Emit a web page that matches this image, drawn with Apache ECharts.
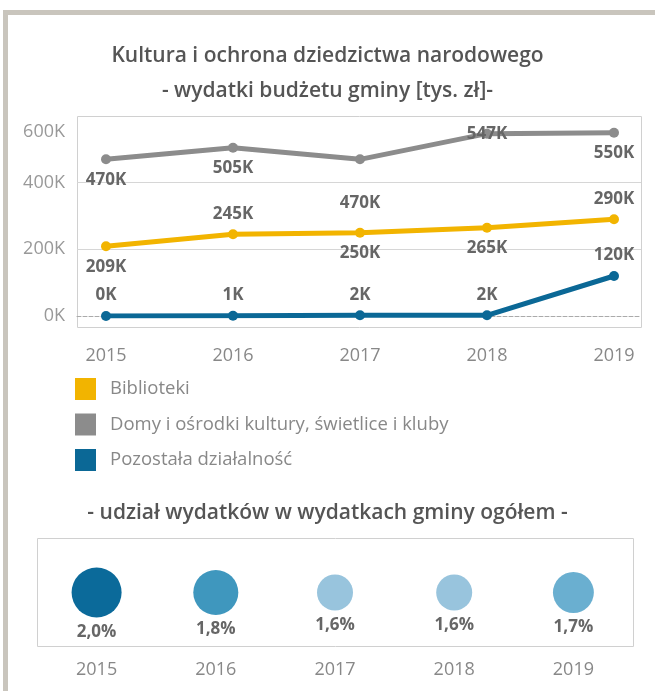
<!DOCTYPE html>
<html>
<head>
<meta charset="utf-8">
<script src="https://cdn.jsdelivr.net/npm/echarts@6/dist/echarts.min.js"></script>
<style>
  html, body { margin: 0; padding: 0; background: #fff; }
  #chart { width: 655px; height: 691px; }
</style>
</head>
<body>
<div id="chart"></div>
<script>
// dane (tys. zł)
var years = ['2015', '2016', '2017', '2018', '2019'];
var biblioteki = [209, 245, 250, 265, 290];
var domyKultury = [470, 505, 470, 547, 550];
var pozostala = [0, 1, 2, 2, 120];
var yTicks = [0, 200, 400, 600];
// udzial w wydatkach gminy ogolem [%]
var udzial = [2.0, 1.8, 1.6, 1.6, 1.7];

var names = ['Biblioteki', 'Domy i ośrodki kultury, świetlice i kluby', 'Pozostała działalność'];
var colors = ['#F2B400', '#8C8C8C', '#0B6896'];

// where each value label sits: 'top' | 'bottom' | 'far' | 'on'
var labelPlace = [
  ['bottom', 'top', 'bottom', 'bottom', 'top'],
  ['bottom', 'bottom', 'far', 'on', 'bottom'],
  ['top', 'top', 'top', 'top', 'top']
];

function labelFor(place) {
  if (place === 'on') return { position: 'inside' };
  if (place === 'far') return { position: 'bottom', distance: 30 };
  return { position: place, distance: 7 };
}

function lineSeries(idx, values) {
  return {
    name: names[idx],
    type: 'line',
    xAxisIndex: 0,
    yAxisIndex: 0,
    symbol: 'circle',
    symbolSize: 10,
    z: 3 + idx,
    lineStyle: { width: 5, color: colors[idx] },
    itemStyle: { color: colors[idx] },
    label: {
      show: true,
      fontSize: 17,
      fontWeight: 'bold',
      color: '#666',
      formatter: function (p) { return Math.round(p.value) + 'K'; }
    },
    data: values.map(function (v, i) {
      return { value: v, label: labelFor(labelPlace[idx][i]) };
    })
  };
}

// bubble diameter from share (min 1.6 -> 36px, max 2.0 -> 50px)
function bubbleSize(val) {
  var t = Math.max(0, Math.min(1, (2.0 - val[2]) / 0.4));
  return 50 - 14 * Math.pow(t, 1.5);
}

var chart = echarts.init(document.getElementById('chart'));

chart.setOption({
  animation: false,
  textStyle: { fontFamily: 'Open Sans' },
  title: [{
    text: 'Kultura i ochrona dziedzictwa narodowego\n- wydatki budżetu gminy [tys. zł]-',
    left: 'center',
    top: 34,
    textStyle: { fontSize: 21, fontWeight: 600, color: '#555', lineHeight: 35 }
  }, {
    text: '- udział wydatków w wydatkach gminy ogółem -',
    left: 'center',
    top: 498,
    textStyle: { fontSize: 21, fontWeight: 600, color: '#555' }
  }],
  legend: {
    orient: 'vertical',
    left: 75,
    top: 378,
    padding: 0,
    icon: 'rect',
    itemWidth: 21,
    itemHeight: 22,
    itemGap: 13.5,
    selectedMode: false,
    data: names,
    textStyle: { fontSize: 18.5, color: '#888', padding: [0, 0, 0, 9] }
  },
  grid: [
    { left: 106, right: 41, top: 116, bottom: 375 },
    { left: 77, right: 14, top: 116, bottom: 375 },
    { left: 37, right: 22, top: 538, bottom: 44 }
  ],
  xAxis: [{
    gridIndex: 0,
    type: 'category',
    data: years,
    boundaryGap: false,
    axisLine: { show: false },
    axisTick: { show: false },
    axisLabel: { margin: 31, fontSize: 18, color: '#888' }
  }, {
    gridIndex: 1,
    type: 'value',
    min: 0,
    max: 1,
    axisLine: { show: true, lineStyle: { color: '#aaa', type: 'dashed', width: 1 } },
    axisTick: { show: false },
    axisLabel: { show: false },
    splitLine: { show: false }
  }, {
    gridIndex: 2,
    type: 'category',
    data: years,
    axisLine: { show: false },
    axisTick: { show: false },
    axisLabel: { margin: 14, fontSize: 18, color: '#888' }
  }],
  yAxis: [{
    gridIndex: 0,
    type: 'value',
    min: yTicks[0],
    max: yTicks[yTicks.length - 1],
    interval: 200,
    axisLine: { show: false },
    axisTick: { show: false },
    splitLine: { show: false },
    axisLabel: {
      margin: 41,
      fontSize: 18,
      color: '#999',
      formatter: function (v) {
        return v === yTicks[yTicks.length - 1] ? '{top|' + v + 'K}' : v + 'K';
      },
      rich: { top: { fontSize: 18, color: '#999', padding: [32, 0, 0, 0] } }
    }
  }, {
    gridIndex: 1,
    type: 'value',
    min: yTicks[0],
    max: yTicks[yTicks.length - 1],
    interval: 200,
    axisLine: { show: false },
    axisTick: { show: false },
    axisLabel: { show: false },
    splitLine: { show: true, lineStyle: { color: ['rgba(0,0,0,0)', '#d6d6d6', '#d6d6d6', 'rgba(0,0,0,0)'] } }
  }, {
    gridIndex: 2,
    type: 'value',
    min: -1,
    max: 1,
    show: false
  }],
  visualMap: {
    show: false,
    type: 'continuous',
    seriesIndex: 3,
    dimension: 2,
    min: 1.6,
    max: 2.0,
    inRange: {
      color: ['#98C4DD', '#6AAFD0', '#3F97BE', '#2580AC', '#0B6A9A']
    }
  },
  graphic: [
    { type: 'rect', shape: { x: 3, y: 10, width: 5, height: 681 }, style: { fill: '#C9C5BD' }, silent: true },
    { type: 'rect', shape: { x: 3, y: 10, width: 652, height: 5 }, style: { fill: '#C9C5BD' }, silent: true },
    { type: 'rect', shape: { x: 77.5, y: 116.5, width: 564, height: 211 }, style: { fill: 'none', stroke: '#d0d0d0', lineWidth: 1 }, silent: true, z: -1 },
    { type: 'rect', shape: { x: 37.5, y: 538.5, width: 596, height: 108 }, style: { fill: 'none', stroke: '#d0d0d0', lineWidth: 1 }, silent: true, z: -1 }
  ],
  series: [
    lineSeries(0, biblioteki),
    lineSeries(1, domyKultury),
    lineSeries(2, pozostala),
    {
      type: 'scatter',
      xAxisIndex: 2,
      yAxisIndex: 2,
      symbol: 'circle',
      symbolSize: bubbleSize,
      itemStyle: { opacity: 1 },
      label: {
        show: true,
        position: 'bottom',
        distance: 6,
        fontSize: 17,
        fontWeight: 'bold',
        color: '#666',
        formatter: function (p) { return p.value[2].toFixed(1).replace('.', ',') + '%'; }
      },
      data: udzial.map(function (v, i) { return [years[i], 0, v]; })
    }
  ]
});
</script>
</body>
</html>
